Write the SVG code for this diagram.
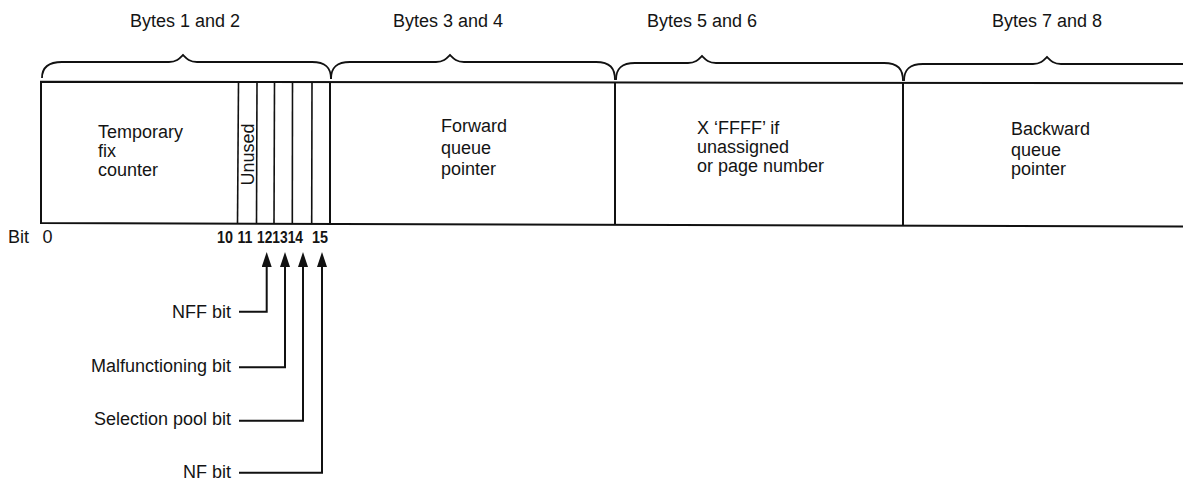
<svg xmlns="http://www.w3.org/2000/svg" width="1183" height="481" viewBox="0 0 1183 481">
<style>
text{font-family:"Liberation Sans",Arial,sans-serif;font-size:18px;fill:#141414}
.num{font-weight:bold;font-size:17px}
.ln{stroke:#111;stroke-width:2;fill:none}
.thin{stroke:#111;stroke-width:1.6;fill:none}
.brace{stroke:#111;stroke-width:1.8;fill:none}
</style>
<defs>
<marker id="ah" markerUnits="userSpaceOnUse" viewBox="0 0 15 10" markerWidth="15" markerHeight="10" refX="9" refY="5" orient="auto">
<path d="M0,0 L15,5 L0,10 z" fill="#111"/>
</marker>
</defs>
<rect width="1183" height="481" fill="#fff"/>

<g id="byte-labels">
<text x="185" y="27" text-anchor="middle">Bytes 1 and 2</text>
<text x="448" y="27" text-anchor="middle">Bytes 3 and 4</text>
<text x="702" y="27" text-anchor="middle">Bytes 5 and 6</text>
<text x="1047" y="27" text-anchor="middle">Bytes 7 and 8</text>
</g>

<g id="braces">
<path class="brace" d="M42,78 C42,68 48,62 62,62 L169,62 C177,62 180,58 183,55 C186,58 189,62 197,62 L312,62 C326,62 331,68 331,79"/>
<path class="brace" d="M331,79 C331,68 336,62 350,62 L436,62 C444,62 447,58 450,55 C453,58 456,62 464,62 L596,62 C610,62 615,68 615,80"/>
<path class="brace" d="M616,80 C616,69 621,63 635,63 L688,63 C696,63 699,59 702,56 C705,59 708,63 716,63 L884,63 C898,63 903,69 903,81"/>
<path class="brace" d="M904,81 C904,70 909,64 923,64 L1033,64 C1041,64 1044,60 1047,57 C1050,60 1053,64 1061,64 L1185,64"/>
</g>

<g id="record">
<path class="ln" d="M1183,83.3 L41,81.7 L41,223 L1183,226.5"/>
<line class="ln" x1="330" y1="82" x2="330" y2="224"/>
<line class="ln" x1="615" y1="82.4" x2="615" y2="225"/>
<line class="ln" x1="903" y1="82.8" x2="903" y2="225.8"/>
</g>

<g id="field-temporary-fix-counter">
<text x="98" y="138">Temporary</text>
<text x="98" y="157">fix</text>
<text x="98" y="176">counter</text>
</g>

<g id="bit-fields">
<line class="thin" x1="238.5" y1="82" x2="237.5" y2="223.3"/>
<line class="thin" x1="257" y1="82" x2="256.5" y2="223.3"/>
<line class="thin" x1="274.5" y1="82" x2="274" y2="223.3"/>
<line class="thin" x1="292.5" y1="82" x2="292.3" y2="223.3"/>
<line class="thin" x1="312" y1="82" x2="311.7" y2="223.3"/>
<text x="0" y="0" font-size="15" text-anchor="middle" transform="translate(253.5,154.5) rotate(-90)">Unused</text>
</g>

<g id="field-forward-queue-pointer">
<text x="441" y="132">Forward</text>
<text x="441" y="154">queue</text>
<text x="441" y="175">pointer</text>
</g>

<g id="field-page-number">
<text x="697" y="133.5">X ‘FFFF’ if</text>
<text x="697" y="152.5">unassigned</text>
<text x="697" y="171.5">or page number</text>
</g>

<g id="field-backward-queue-pointer">
<text x="1011" y="135">Backward</text>
<text x="1011" y="156">queue</text>
<text x="1011" y="175">pointer</text>
</g>

<g id="bit-numbers">
<text x="8" y="243">Bit</text>
<text x="47.5" y="243" text-anchor="middle">0</text>
<text class="num" x="217" y="243" textLength="16" lengthAdjust="spacingAndGlyphs">10</text>
<text class="num" x="237.5" y="243" textLength="15" lengthAdjust="spacingAndGlyphs">11</text>
<text class="num" x="257" y="243" textLength="46" lengthAdjust="spacingAndGlyphs">121314</text>
<text class="num" x="312" y="243" textLength="16" lengthAdjust="spacingAndGlyphs">15</text>
</g>

<g id="bit-flags">
<text x="231" y="318" text-anchor="end">NFF bit</text>
<text x="231" y="372" text-anchor="end">Malfunctioning bit</text>
<text x="231" y="425" text-anchor="end">Selection pool bit</text>
<text x="231" y="478" text-anchor="end">NF bit</text>
</g>

<g id="connectors">
<path class="ln" d="M239,311.7 H266.7 V258" marker-end="url(#ah)"/>
<path class="ln" d="M239,367.3 H285 V258" marker-end="url(#ah)"/>
<path class="ln" d="M239,420.7 H303 V258" marker-end="url(#ah)"/>
<path class="ln" d="M239,472.7 H322 V258" marker-end="url(#ah)"/>
</g>
</svg>
